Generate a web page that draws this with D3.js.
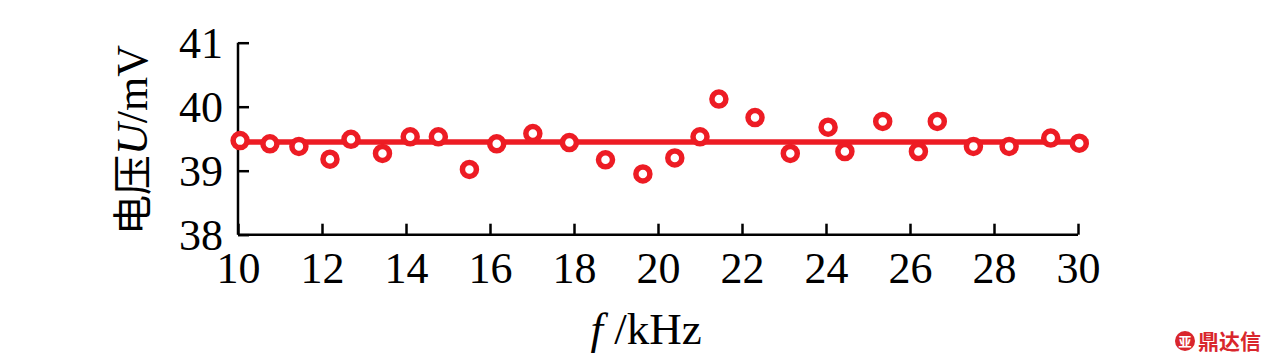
<!DOCTYPE html>
<html>
<head>
<meta charset="utf-8">
<script src="https://cdn.jsdelivr.net/npm/d3@7"></script>
<style>
  body { margin: 0; background: #fff; }
  svg { display: block; }
</style>
</head>
<body>
<div id="chart"></div>
<script>
// Frequency (kHz) and measured voltage (mV)
const freq = [10.05, 10.76, 11.45, 12.19, 12.69, 13.44, 14.1, 14.77, 15.51, 16.16,
              17.02, 17.89, 18.75, 19.64, 20.4, 21.0, 21.45, 22.31, 23.15, 24.05,
              24.45, 25.35, 26.2, 26.65, 27.51, 28.36, 29.35, 30.03];
const voltage = [39.47, 39.42, 39.38, 39.18, 39.49, 39.27, 39.53, 39.53, 39.02, 39.42,
                 39.58, 39.44, 39.17, 38.95, 39.2, 39.53, 40.12, 39.83, 39.27, 39.68,
                 39.3, 39.77, 39.3, 39.77, 39.38, 39.38, 39.51, 39.43];
// Horizontal fit line
const fitX = [10, 30.25];
const fitY = [39.45, 39.45];
const xTicks = [10, 12, 14, 16, 18, 20, 22, 24, 26, 28, 30];
const yTicks = [38, 39, 40, 41];

const width = 1276, height = 362;
const red = "#ed1c24";
const serif = "'Liberation Serif', 'Times New Roman', 'DejaVu Serif', serif";

const svg = d3.select("#chart").append("svg")
    .attr("width", width)
    .attr("height", height);

const x = d3.scaleLinear().domain([10, 30]).range([238, 1078]);
const y = d3.scaleLinear().domain([38, 41]).range([234.7, 42.7]);

function styleAxis(g) {
    g.attr("font-family", null).attr("font-size", null);
    g.selectAll("path, line").attr("stroke", "#000").attr("stroke-width", 2.5);
    g.selectAll("text")
        .attr("font-family", serif)
        .attr("font-size", 44)
        .attr("fill", "#000");
}

// X axis (ticks point up into the plot)
const gx = svg.append("g")
    .attr("transform", "translate(0," + y(38) + ")")
    .call(d3.axisBottom(x).tickValues(xTicks).tickFormat(d3.format("d"))
        .tickSizeInner(-11).tickSizeOuter(0));
gx.select(".domain").attr("d", "M" + x(10) + ",0H" + x(30));
gx.selectAll("text").attr("y", 48).attr("dy", null);
styleAxis(gx);

// Y axis (ticks point right into the plot)
const gy = svg.append("g")
    .attr("transform", "translate(" + x(10) + ",0)")
    .call(d3.axisLeft(y).tickValues(yTicks).tickFormat(d3.format("d"))
        .tickSizeInner(-11).tickSizeOuter(0));
gy.select(".domain").attr("d", "M0," + y(38) + "V" + y(41));
gy.selectAll("text").attr("x", -15).attr("dy", "0.34em");
styleAxis(gy);

// Fit line
svg.append("path")
    .datum(fitX.map((d, i) => [d, fitY[i]]))
    .attr("fill", "none")
    .attr("stroke", red)
    .attr("stroke-width", 5.5)
    .attr("d", d3.line().x(d => x(d[0])).y(d => y(d[1])));

// Measured points
svg.append("g")
    .selectAll("circle")
    .data(freq.map((d, i) => ({ f: d, u: voltage[i] })))
    .join("circle")
    .attr("cx", d => x(d.f))
    .attr("cy", d => y(d.u))
    .attr("r", 7)
    .attr("fill", "#fff")
    .attr("stroke", red)
    .attr("stroke-width", 5.5);

// Y axis label
const yl = svg.append("text")
    .attr("transform", "translate(147,140) rotate(-90)")
    .attr("text-anchor", "middle")
    .attr("font-family", serif)
    .attr("font-size", 44)
    .attr("fill", "#000");
yl.append("tspan").attr("font-family", "'Noto Sans CJK SC', serif").attr("font-size", 40).text("电压");
yl.append("tspan").attr("font-style", "italic").text("U");
yl.append("tspan").text("/mV");

// X axis label
const xl = svg.append("text")
    .attr("x", 646)
    .attr("y", 344)
    .attr("text-anchor", "middle")
    .attr("font-family", serif)
    .attr("font-size", 45)
    .attr("fill", "#000");
xl.append("tspan").attr("font-style", "italic").text("f");
xl.append("tspan").text(" /kHz");

// Watermark
const wm = svg.append("g").attr("transform", "translate(1185,341)");
wm.append("circle").attr("cx", 0).attr("cy", 0).attr("r", 10).attr("fill", "#d9262c");
wm.append("text")
    .attr("x", 0).attr("y", 5)
    .attr("text-anchor", "middle")
    .attr("font-family", "'Noto Sans CJK SC', sans-serif")
    .attr("font-size", 13)
    .attr("font-weight", "bold")
    .attr("fill", "#fff")
    .text("亚");
wm.append("text")
    .attr("x", 13).attr("y", 8)
    .attr("font-family", "'Noto Sans CJK SC', sans-serif")
    .attr("font-size", 21)
    .attr("font-weight", "bold")
    .attr("fill", "#d9262c")
    .text("鼎达信");
</script>
</body>
</html>
